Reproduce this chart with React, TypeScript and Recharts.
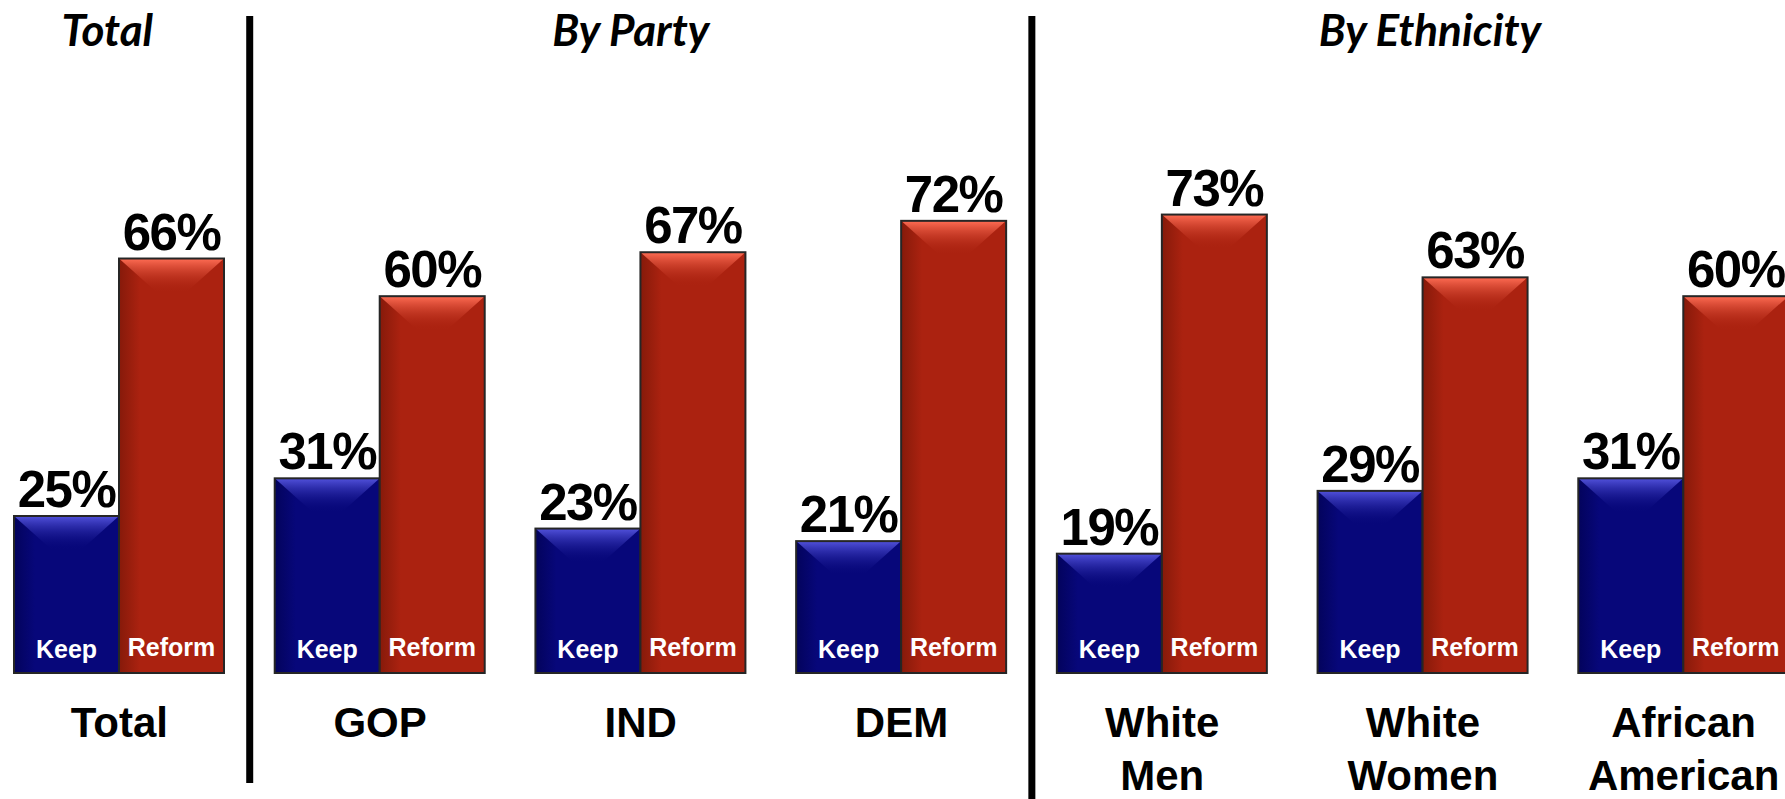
import React from 'react'
import { BarChart, Bar, XAxis, YAxis, LabelList, ReferenceLine, ReferenceDot } from 'recharts'

// groups shown left to right
const categories = ['Total', 'GOP', 'IND', 'DEM', 'White Men', 'White Women', 'African American']
const keep = [25, 31, 23, 21, 19, 29, 31]
const reform = [66, 60, 67, 72, 73, 63, 60]

// section headings and the category they sit over
const sectionTitles = ['Total', 'By Party', 'By Ethnicity']
const sectionAnchors = ['Total', 'IND', 'White Women']
// dividers sit after these categories
const dividerAfter = ['Total', 'DEM']

const data = categories.map((name, i) => ({ name, keep: keep[i], reform: reform[i] }))

const colors = {
  keep: { base: '#07077a', dark: '#03035c', light: '#5252dc' },
  reform: { base: '#ab2210', dark: '#861a0a', light: '#ff6d54' },
}

const numFont = "'Liberation Sans', Arial, sans-serif"

function bevelShape(kind: 'keep' | 'reform') {
  const c = colors[kind]
  return (props: any) => {
    const { x, y, width: w, height: h } = props
    if (!h || h <= 0) return null
    const d = Math.min(34, h / 2)
    const inset = Math.min(38, w / 2 - 4)
    return (
      <g>
        <defs>
          <linearGradient id={`side-${kind}`} x1="0" y1="0" x2="1" y2="0">
            <stop offset="0" stopColor={c.dark} />
            <stop offset="0.2" stopColor={c.base} />
            <stop offset="0.85" stopColor={c.base} />
            <stop offset="1" stopColor={c.base} />
          </linearGradient>
          <linearGradient id={`top-${kind}`} x1="0" y1="0" x2="0" y2="1">
            <stop offset="0" stopColor={c.light} stopOpacity={1} />
            <stop offset="1" stopColor={c.base} stopOpacity={0} />
          </linearGradient>
        </defs>
        <rect x={x} y={y} width={w} height={h} fill={`url(#side-${kind})`} />
        <polygon
          points={`${x},${y} ${x + w},${y} ${x + w - inset},${y + d} ${x + inset},${y + d}`}
          fill={`url(#top-${kind})`}
        />
        <rect x={x} y={y} width={w} height={h} fill="none" stroke="#262626" strokeWidth={2} />
      </g>
    )
  }
}

function CategoryTick(props: any) {
  const { x, y, payload } = props
  const lines = String(payload.value).split(' ')
  return (
    <g>
      {lines.map((line, i) => (
        <text
          key={i}
          x={x}
          y={y + 64 + i * 53}
          textAnchor="middle"
          fontFamily={numFont}
          fontWeight={700}
          fontSize={42}
          fill="#000"
        >
          {line}
        </text>
      ))}
    </g>
  )
}

const titleNudge = [-12, -10, 7]

export default function App() {
  return (
    <div style={{ position: 'absolute', left: 0, top: 0, width: 1785, height: 799, overflow: 'hidden', background: '#fff' }}>
      <div style={{ position: 'absolute', left: -11, top: 0 }}>
        <BarChart
          width={1825}
          height={799}
          data={data}
          margin={{ top: 45, right: 0, bottom: 100, left: 0 }}
          barGap={0}
          barSize={105}
        >
          <XAxis
            dataKey="name"
            interval={0}
            axisLine={false}
            tickLine={false}
            tickSize={0}
            tickMargin={0}
            height={26}
            tick={<CategoryTick />}
          />
          <YAxis hide domain={[0, 100]} />
          {dividerAfter.map((cat) => (
            <ReferenceLine
              key={cat}
              segment={[{ x: cat, y: 104.6 }, { x: cat, y: cat === 'Total' ? -17.5 : -21 }]}
              position="end"
              stroke="#000"
              strokeWidth={7}
              ifOverflow="visible"
            />
          ))}
          {sectionTitles.map((t, i) => (
            <ReferenceDot
              key={t}
              x={sectionAnchors[i]}
              y={102.4}
              r={0}
              fill="none"
              stroke="none"
              ifOverflow="visible"
              label={{
                value: t,
                position: 'center',
                dx: titleNudge[i],
                fontSize: 44,
                fontStyle: 'italic',
                fontWeight: 700,
                fontFamily: 'Lato, sans-serif',
                fill: '#000',
              }}
            />
          ))}
          <Bar dataKey="keep" isAnimationActive={false} shape={bevelShape('keep')}>
            <LabelList
              dataKey="keep"
              position="top"
              offset={9}
              formatter={(v: any) => `${v}%`}
              style={{ fontFamily: numFont, fontWeight: 700, fontSize: 51, fill: '#000', letterSpacing: -1.5 }}
            />
            <LabelList
              dataKey="keep"
              position="insideBottom"
              offset={15}
              formatter={() => 'Keep'}
              style={{ fontFamily: numFont, fontWeight: 700, fontSize: 25, fill: '#fff' }}
            />
          </Bar>
          <Bar dataKey="reform" isAnimationActive={false} shape={bevelShape('reform')}>
            <LabelList
              dataKey="reform"
              position="top"
              offset={9}
              formatter={(v: any) => `${v}%`}
              style={{ fontFamily: numFont, fontWeight: 700, fontSize: 51, fill: '#000', letterSpacing: -1.5 }}
            />
            <LabelList
              dataKey="reform"
              position="insideBottom"
              offset={17}
              formatter={() => 'Reform'}
              style={{ fontFamily: numFont, fontWeight: 700, fontSize: 25, fill: '#fff' }}
            />
          </Bar>
        </BarChart>
      </div>
    </div>
  )
}
